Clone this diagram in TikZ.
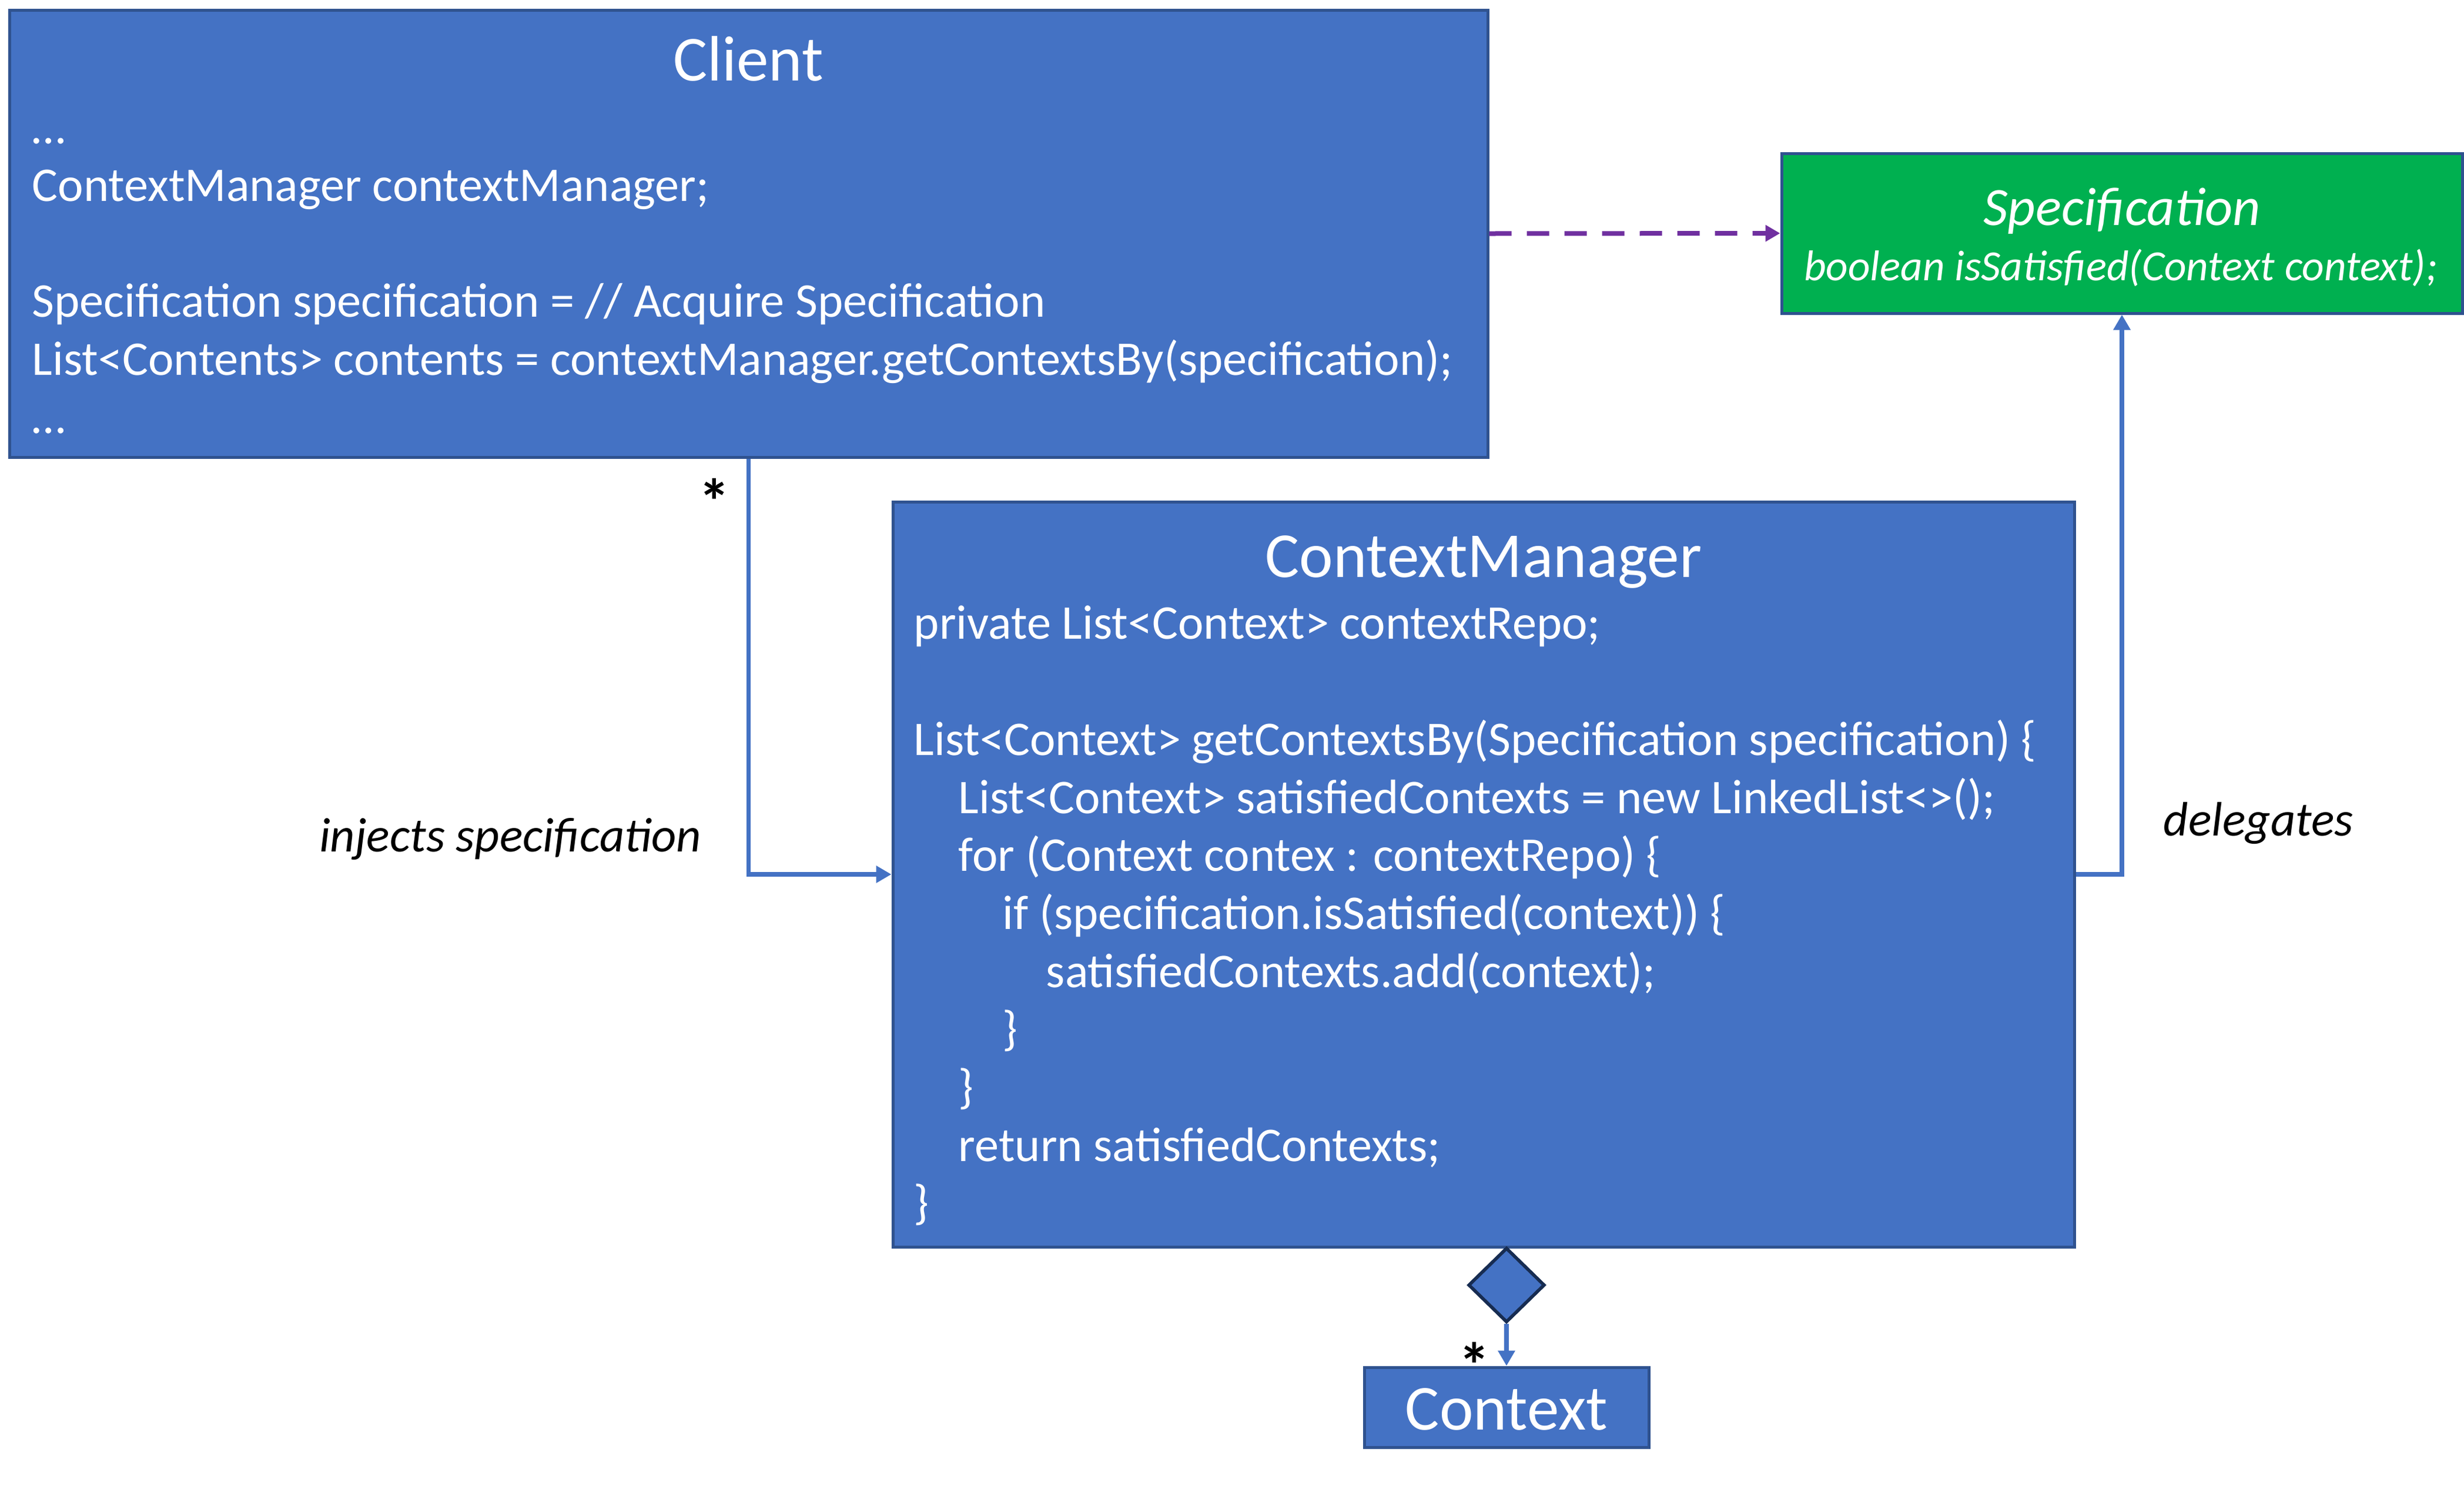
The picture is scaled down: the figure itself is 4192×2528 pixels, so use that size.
\documentclass[tikz,border=0pt]{standalone}
\usepackage{fontspec}
\setmainfont{Carlito}
\usetikzlibrary{arrows.meta,shapes.geometric,fit}
\definecolor{umlblue}{HTML}{4472C4}
\definecolor{umledge}{HTML}{2F528F}
\definecolor{umlgreen}{HTML}{00B050}
\definecolor{umlpurple}{HTML}{7030A0}
\definecolor{umlnavy}{HTML}{172C51}

\begin{document}
\begin{tikzpicture}[x=.25pt,y=-.25pt,
    cls/.style={draw=umledge,line width=1.25pt,fill=umlblue,inner sep=0pt},
    ln/.style={anchor=base west,inner sep=0pt,text=white,font=\fontsize{20.6}{24.7}\selectfont},
    ttl/.style={anchor=base,inner sep=0pt,text=white,font=\fontsize{27.3}{32}\selectfont},
    lbl/.style={inner sep=0pt,font=\fontsize{20.6}{24.7}\selectfont\itshape},
    many/.style={inner sep=0pt,anchor=north,text depth=-7pt,font=\fontsize{27}{32}\selectfont\bfseries},
    link/.style={draw=umlblue,line width=1.9pt,-{Triangle[length=6.5pt,width=7pt]}}]
      \useasboundingbox (0,0) rectangle (4192,2528);

      % class boxes
      \node (client) [cls,fit={(16,17) (2531,778)}] {};
      \node (manager) [cls,fit={(1519,854) (3529,2122)}] {};
      \node (spec) [cls,fill=umlgreen,fit={(3031,261) (4189,533)}] {};
      \node (context) [cls,fit={(2321,2327) (2805,2463)}] {};
      \node (agg) at (2563,2187) [diamond,draw=umlnavy,line width=1.4pt,fill=umlblue,inner sep=0pt,minimum width=32.5pt,minimum height=31.75pt] {};

      % names
      \node (clientname) at (1273,137) [ttl] {Client};
      \node (managername) at (2524,982) [ttl] {ContextManager};
      \node (specname) at (3610,383) [ttl,font=\fontsize{23}{27}\selectfont\itshape] {Specification};
      \node (specop) at (3608,477) [ttl,font=\fontsize{18.3}{22}\selectfont\itshape] {boolean isSatisfied(Context context);};
      \node (contextname) at (2563,2433) [ttl] {Context};

      % client body
      \node (c1) at (54,244) [ln] {\ldots};
      \node (c2) at (54,342) [ln] {ContextManager contextManager;};
      \node (c3) at (54,539) [ln] {Specification specification = // Acquire Specification};
      \node (c4) at (54,638) [ln] {List<Contents> contents = contextManager.getContextsBy(specification);};
      \node (c5) at (54,737) [ln] {\ldots};

      % manager body
      \node (m1) at (1554,1087) [ln] {private List<Context> contextRepo;};
      \node (m2) at (1554,1285) [ln] {List<Context> getContextsBy(Specification specification) \{};
      \node (m3) at (1630,1384) [ln] {List<Context> satisfiedContexts = new LinkedList<>();};
      \node (m4) at (1630,1482) [ln] {for (Context contex : contextRepo) \{};
      \node (m5) at (1705,1581) [ln] {if (specification.isSatisfied(context)) \{};
      \node (m6) at (1779,1680) [ln] {satisfiedContexts.add(context);};
      \node (m7) at (1705,1778) [ln] {\}};
      \node (m8) at (1630,1877) [ln] {\}};
      \node (m9) at (1630,1976) [ln] {return satisfiedContexts;};
      \node (m10) at (1554,2074) [ln] {\}};

      % labels
      \node (injects) at (1194,1449) [lbl,anchor=base east] {injects specification};
      \node (delegates) at (3680,1422) [lbl,anchor=base west] {delegates};
      \node (many1) at (1215,813) [many] {*};
      \node (many2) at (2508,2283) [many] {*};

      \draw[link] (client.south) |- (manager.west);
      \draw[link] (manager.east) -| (spec.south);
      \draw[link] (agg.south) -- (context.north);
      \draw[umlpurple,line width=2pt,dash pattern=on 9.5pt off 6.5pt,-{Triangle[length=6.25pt,width=6.75pt]}]
      (client.east) -- (spec.west);

    \end{tikzpicture}
\end{document}
